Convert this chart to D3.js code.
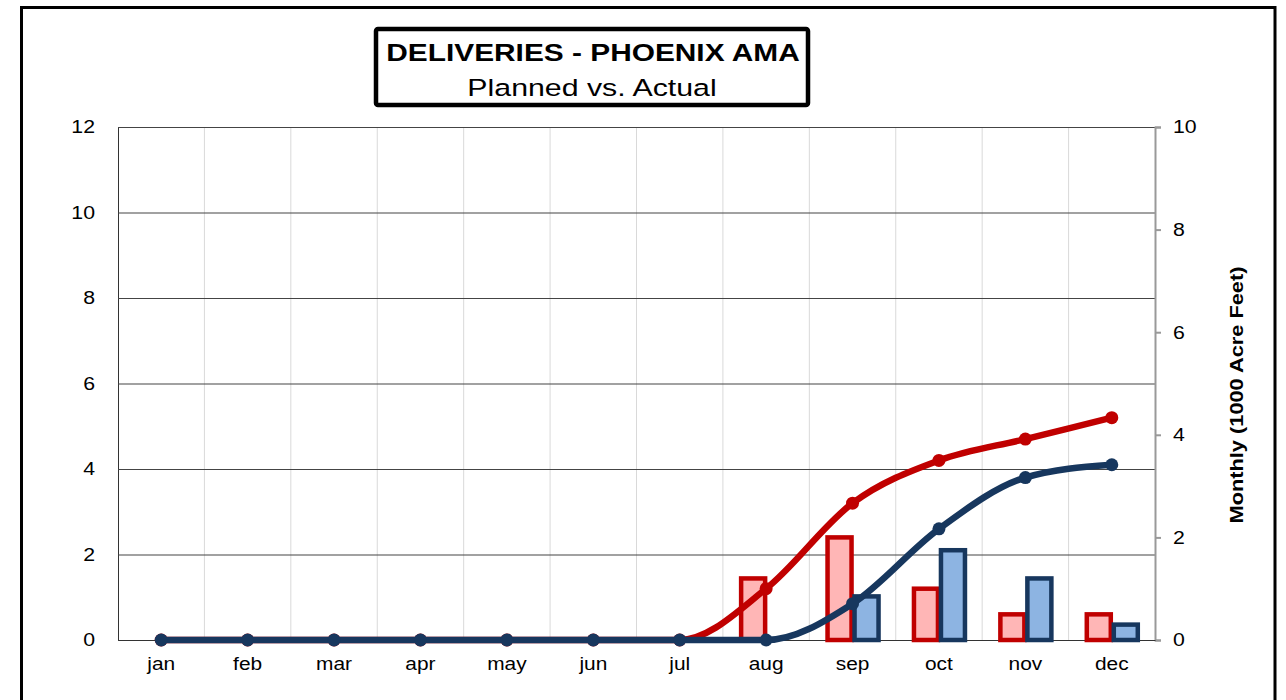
<!DOCTYPE html>
<html>
<head>
<meta charset="utf-8">
<script src="https://cdn.jsdelivr.net/npm/d3@7"></script>
<style>
  body { margin: 0; background: #fff; }
  text { font-family: "Liberation Sans", Arial, sans-serif; }
</style>
</head>
<body>
<div id="chart"></div>
<script>
// data
var months = ["jan", "feb", "mar", "apr", "may", "jun", "jul", "aug", "sep", "oct", "nov", "dec"]
var plannedMonthly = [0, 0, 0, 0, 0, 0, 0, 1.2, 2.0, 1.0, 0.5, 0.5]
var actualMonthly = [0, 0, 0, 0, 0, 0, 0, 0, 0.85, 1.75, 1.2, 0.3]
var plannedCumulative = [0, 0, 0, 0, 0, 0, 0, 1.2, 3.2, 4.2, 4.7, 5.2]
var actualCumulative = [0, 0, 0, 0, 0, 0, 0, 0, 0.85, 2.6, 3.8, 4.1]
var leftTicks = [0, 2, 4, 6, 8, 10, 12]
var rightTicks = [0, 2, 4, 6, 8, 10]

// the original text is drawn wider than Liberation Sans, stretch it a bit
function stretch(sel, k, origin) {
    sel.style("transform-box", "fill-box")
        .style("transform-origin", origin)
        .style("transform", "scale(" + k + ",1)")
}

function chart() {
    var width = 1286, height = 700
    var margin = {top: 127, right: 131, bottom: 60, left: 118}
    var chartWidth = width - margin.left - margin.right
    var chartHeight = 640 - margin.top

    var svg = d3.select("#chart").append("svg")
        .attr("width", width).attr("height", height)

    // outer frame
    svg.append("rect")
        .attr("x", 21.5).attr("y", 7.5)
        .attr("width", 1253.5).attr("height", 760)
        .attr("fill", "none").attr("stroke", "#000").attr("stroke-width", 3)

    var xScale = d3.scaleBand().domain(months).range([0, chartWidth])
    var yLeft = d3.scaleLinear().domain([0, 12]).range([chartHeight, 0])
    var yRight = d3.scaleLinear().domain([0, 10]).range([chartHeight, 0])
    var sub = d3.scaleOrdinal().domain(["plan", "actual"]).range([-25, 2])
    var barW = 24

    var g = svg.append("g").attr("transform", "translate(" + [margin.left, margin.top] + ")")

    // vertical grid
    g.append("g").selectAll("line").data(months.slice(1))
        .enter().append("line")
        .attr("x1", function (d) { return xScale(d) }).attr("x2", function (d) { return xScale(d) })
        .attr("y1", 0).attr("y2", chartHeight)
        .attr("stroke", "#d9d9d9").attr("stroke-width", 1)

    // left axis with horizontal grid
    var leftAxis = g.append("g").attr("class", "axis left")
        .call(d3.axisLeft(yLeft).tickValues(leftTicks).tickSize(-chartWidth).tickPadding(23))
    leftAxis.select(".domain").attr("stroke", "#333")
    leftAxis.selectAll(".tick line").attr("stroke", "#444").attr("stroke-width", 1.2)
    leftAxis.selectAll(".tick text").attr("font-size", 18.5).attr("fill", "#000")
        .attr("font-family", "Liberation Sans, Arial, sans-serif")
        .call(stretch, 1.15, "right center")

    // right axis
    var rightAxis = g.append("g").attr("class", "axis right")
        .attr("transform", "translate(" + chartWidth + ",0)")
        .call(d3.axisRight(yRight).tickValues(rightTicks).tickSize(6).tickSizeOuter(6).tickPadding(12))
    rightAxis.select(".domain").attr("stroke", "#999").attr("stroke-width", 2)
    rightAxis.selectAll(".tick line").attr("stroke", "#999").attr("stroke-width", 2)
    rightAxis.selectAll(".tick text").attr("font-size", 18.5).attr("fill", "#000")
        .attr("font-family", "Liberation Sans, Arial, sans-serif")
        .call(stretch, 1.15, "left center")

    // bottom axis
    var bottomAxis = g.append("g").attr("class", "axis x")
        .attr("transform", "translate(0," + chartHeight + ")")
        .call(d3.axisBottom(xScale).tickSize(0).tickPadding(17))
    bottomAxis.select(".domain").attr("stroke", "#333").attr("stroke-width", 1.2)
    bottomAxis.selectAll(".tick text").attr("font-size", 18.5).attr("fill", "#000")
        .attr("font-family", "Liberation Sans, Arial, sans-serif")
        .call(stretch, 1.13, "center")

    // bars
    var barData = months.map(function (m, i) {
        return {m: m, plan: plannedMonthly[i], actual: actualMonthly[i]}
    })

    g.append("g").selectAll("rect.plan").data(barData.filter(function (d) { return d.plan > 0 }))
        .enter().append("rect").attr("class", "plan")
        .attr("x", function (d) { return xScale(d.m) + xScale.bandwidth() / 2 + sub("plan") })
        .attr("y", function (d) { return yRight(d.plan) })
        .attr("width", barW)
        .attr("height", function (d) { return chartHeight - yRight(d.plan) })
        .attr("fill", "#FFB6B6").attr("stroke", "#C00000").attr("stroke-width", 4.5)

    g.append("g").selectAll("rect.actual").data(barData.filter(function (d) { return d.actual > 0 }))
        .enter().append("rect").attr("class", "actual")
        .attr("x", function (d) { return xScale(d.m) + xScale.bandwidth() / 2 + sub("actual") })
        .attr("y", function (d) { return yRight(d.actual) })
        .attr("width", barW)
        .attr("height", function (d) { return chartHeight - yRight(d.actual) })
        .attr("fill", "#8DB4E2").attr("stroke", "#17375E").attr("stroke-width", 4.5)

    // cumulative lines
    var line = d3.line()
        .x(function (d) { return xScale(d.m) + xScale.bandwidth() / 2 })
        .y(function (d) { return yLeft(d.v) })
        .curve(d3.curveMonotoneX)

    function drawSeries(values, color) {
        var pts = months.map(function (m, i) { return {m: m, v: values[i]} })
        g.append("path").datum(pts)
            .attr("d", line)
            .attr("fill", "none").attr("stroke", color).attr("stroke-width", 6.5)
            .attr("stroke-linejoin", "round")
        g.append("g").selectAll("circle").data(pts)
            .enter().append("circle")
            .attr("cx", function (d) { return xScale(d.m) + xScale.bandwidth() / 2 })
            .attr("cy", function (d) { return yLeft(d.v) })
            .attr("r", 6.5).attr("fill", color)
    }
    drawSeries(plannedCumulative, "#C00000")
    drawSeries(actualCumulative, "#17375E")

    // right axis title
    svg.append("text")
        .attr("transform", "translate(1243,395) rotate(-90) scale(1.21,1.06)")
        .attr("text-anchor", "middle")
        .attr("font-size", 18).attr("font-weight", "bold")
        .text("Monthly (1000 Acre Feet)")

    // title box
    svg.append("rect")
        .attr("x", 376).attr("y", 29).attr("width", 432).attr("height", 76)
        .attr("rx", 2)
        .attr("fill", "#fff").attr("stroke", "#000").attr("stroke-width", 4.5)
    svg.append("text").attr("x", 593).attr("y", 61)
        .attr("text-anchor", "middle").attr("font-size", 23.5).attr("font-weight", "bold")
        .text("DELIVERIES - PHOENIX AMA")
        .call(stretch, 1.27, "center")
    svg.append("text").attr("x", 592).attr("y", 96)
        .attr("text-anchor", "middle").attr("font-size", 23.5)
        .text("Planned vs. Actual")
        .call(stretch, 1.29, "center")
}
chart()
</script>
</body>
</html>
